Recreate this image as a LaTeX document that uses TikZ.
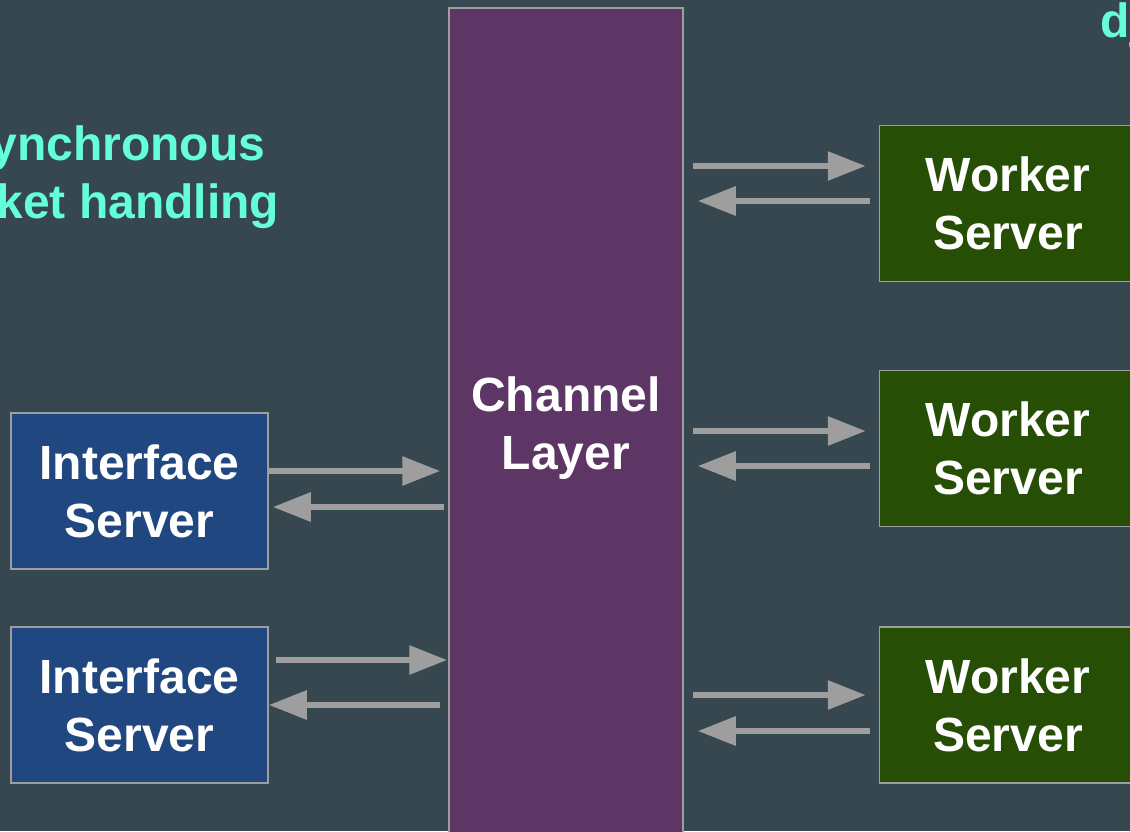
\documentclass[tikz,border=0pt]{standalone}
\usepackage{fontspec}
\setmainfont{Liberation Sans}
\usetikzlibrary{calc,arrows.meta}
\definecolor{fondogris}{RGB}{55,71,79}
\definecolor{capamorada}{RGB}{94,54,102}
\definecolor{servazul}{RGB}{32,71,128}
\definecolor{servverde}{RGB}{39,78,5}
\definecolor{textoturq}{RGB}{100,255,218}
\definecolor{flechagris}{RGB}{158,158,158}

\begin{document}
\begin{tikzpicture}[x=1pt, y=-1pt, line width=1.5pt,
    caja/.style={draw=flechagris, text=white, minimum width=257pt, minimum height=156pt,
      align=center, inner sep=0pt, font=\bfseries\fontsize{48}{58}\selectfont},
    flecha/.style={draw=flechagris, line width=6pt, -{Triangle[length=38pt,width=28pt]}}]
    \useasboundingbox (0,0) rectangle (1130,831);
    \clip (0,0) rectangle (1130,831);
    \fill[fondogris] (0,0) rectangle (1130,831);
    % capa de canales
    \node[caja, fill=capamorada, minimum width=234pt, minimum height=900pt] (capa) at (566,458) {};
    \node[text=white, align=center, inner sep=0pt, font=\bfseries\fontsize{48}{58}\selectfont] (capatxt) at (566,428) {Channel\\Layer};
    % servidores
    \node[caja, fill=servazul] (if1) at (139.5,491) {Interface\\Server};
    \node[caja, fill=servazul] (if2) at (139.5,705) {Interface\\Server};
    \node[caja, fill=servverde] (w1) at (1008,203.5) {Worker\\Server};
    \node[caja, fill=servverde] (w2) at (1008,448.5) {Worker\\Server};
    \node[caja, fill=servverde] (w3) at (1008,705) {Worker\\Server};
    % textos
    \node[anchor=base east, inner sep=0pt, text=textoturq, font=\bfseries\fontsize{48}{58}\selectfont] (asinc1) at (266,160) {ynchronous};
    \node[anchor=base east, inner sep=0pt, text=textoturq, font=\bfseries\fontsize{48}{58}\selectfont] (asinc2) at (280,218) {ket handling};
    \node[anchor=base west, inner sep=0pt, text=textoturq, font=\bfseries\fontsize{48}{58}\selectfont] (dj) at (1100,37) {dj};
    % flechas
    \draw[flecha, shorten >=8pt] ($(if1.east)+(0,-20)$) coordinate (a1) -- (a1 -| capa.west);
    \draw[flecha, shorten <=4pt, shorten >=4pt] ($(if1.east)+(0,16)$) coordinate (a2) (a2 -| capa.west) -- (a2);
    \draw[flecha, shorten <=7pt, shorten >=1pt] ($(if2.east)+(0,-45)$) coordinate (b1) -- (b1 -| capa.west);
    \draw[flecha, shorten <=8pt] (if2.east -| capa.west) -- (if2.east);
    \draw[flecha, shorten <=9pt, shorten >=13pt] ($(w1.west)+(0,-37.5)$) coordinate (c1) (c1 -| capa.east) -- (c1);
    \draw[flecha, shorten <=9pt, shorten >=14pt] ($(w1.west)+(0,-2.5)$) coordinate (c2) -- (c2 -| capa.east);
    \draw[flecha, shorten <=9pt, shorten >=13pt] ($(w2.west)+(0,-17.5)$) coordinate (d1) (d1 -| capa.east) -- (d1);
    \draw[flecha, shorten <=9pt, shorten >=14pt] ($(w2.west)+(0,17.5)$) coordinate (d2) -- (d2 -| capa.east);
    \draw[flecha, shorten <=9pt, shorten >=13pt] ($(w3.west)+(0,-10)$) coordinate (e1) (e1 -| capa.east) -- (e1);
    \draw[flecha, shorten <=9pt, shorten >=14pt] ($(w3.west)+(0,26)$) coordinate (e2) -- (e2 -| capa.east);
\end{tikzpicture}
\end{document}
